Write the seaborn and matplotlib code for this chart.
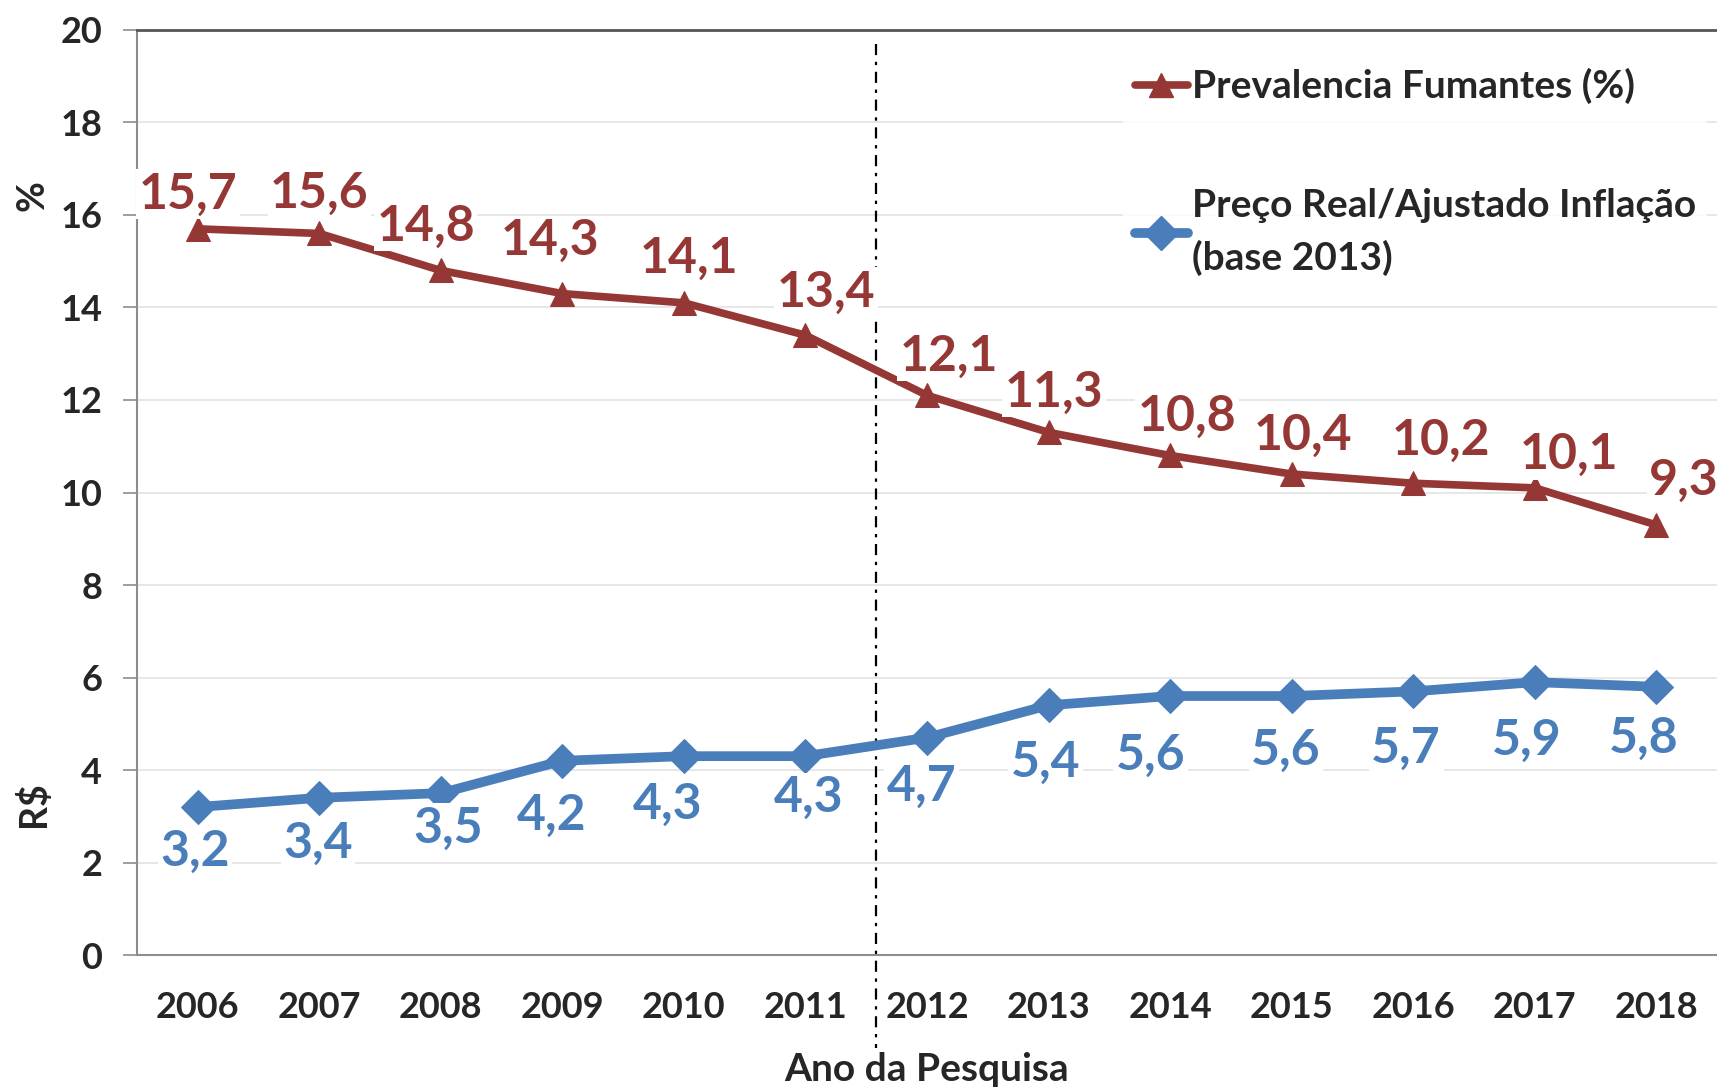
import numpy as np
import pandas as pd
import matplotlib
matplotlib.use("Agg")
import matplotlib.pyplot as plt
import seaborn as sns
from matplotlib.lines import Line2D

# data
years = ["2006", "2007", "2008", "2009", "2010", "2011", "2012",
         "2013", "2014", "2015", "2016", "2017", "2018"]
prevalencia = [15.7, 15.6, 14.8, 14.3, 14.1, 13.4, 12.1, 11.3, 10.8, 10.4, 10.2, 10.1, 9.3]
preco_real = [3.2, 3.4, 3.5, 4.2, 4.3, 4.3, 4.7, 5.4, 5.6, 5.6, 5.7, 5.9, 5.8]

label_prev = "Prevalencia Fumantes (%)"
label_preco = "Preço Real/Ajustado Inflação\n(base 2013)"

RED = "#953735"
BLUE = "#4A7EBB"

sns.set_style("white")
plt.rcParams["font.family"] = ["Lato", "DejaVu Sans"]
plt.rcParams["font.weight"] = "bold"

df = pd.DataFrame({"pos": np.arange(len(years)), "prev": prevalencia, "preco": preco_real})

fig = plt.figure(figsize=(17.17, 10.89), dpi=100)
ax = fig.add_axes([0.0798, 0.123, 0.9202, 0.8495])

sns.lineplot(data=df, x="pos", y="prev", ax=ax, color=RED, lw=5.5,
             marker="^", markersize=17, markeredgecolor=RED, zorder=3)
sns.lineplot(data=df, x="pos", y="preco", ax=ax, color=BLUE, lw=7,
             marker="D", markersize=17, markeredgecolor=BLUE, zorder=3)

# label offsets in points (hand placed in the original)
red_dx = [-7, 0, -11, -9, 4, 15, 16, 4, 12, 8, 20, 25, 20]
red_dy = [25, 29, 32, 38, 32, 31, 28, 29, 28, 28, 31, 24, 32]
blue_dx = [-2, -1, 5, -8, -12, 2, -4, -2, -14, -4, -5, -6, -9]
blue_dy = [32, 33, 25, 39, 35, 30, 35, 41, 43, 39, 41, 42, 37]

box = dict(boxstyle="square,pad=0.05", fc="white", ec="none")
for i in range(len(years)):
    ax.annotate(f"{prevalencia[i]:.1f}".replace(".", ","), (df.pos[i], prevalencia[i]),
                xytext=(red_dx[i], red_dy[i]), textcoords="offset points",
                ha="center", va="center", fontsize=36, color=RED, fontweight="bold",
                bbox=box, zorder=4)
    ax.annotate(f"{preco_real[i]:.1f}".replace(".", ","), (df.pos[i], preco_real[i]),
                xytext=(blue_dx[i], -blue_dy[i]), textcoords="offset points",
                ha="center", va="center", fontsize=36, color=BLUE, fontweight="bold",
                bbox=box, zorder=4)

# dash-dot separator between 2011 and 2012
ax.plot([5.58, 5.58], [19.7, -2.0], color="black", lw=1.6,
        dashes=(5, 3, 1.5, 3), clip_on=False, zorder=2)

ax.set_xlim(-0.5, 12.5)
ax.set_ylim(0, 20)
ax.set_yticks(range(0, 21, 2))
ax.set_xticks(df.pos)
ax.set_xticklabels(years)
ax.grid(axis="y", color="#e3e3e3", lw=1.2)
ax.set_axisbelow(True)

for side in ["left", "bottom"]:
    ax.spines[side].set_color("#8c8c8c")
    ax.spines[side].set_linewidth(1.5)
ax.spines["top"].set_color("#555555")
ax.spines["top"].set_linewidth(2)
ax.spines["right"].set_visible(False)

ax.tick_params(axis="y", length=10, width=1.2, color="#8c8c8c", pad=15,
               labelsize=26, left=True)
ax.tick_params(axis="x", length=0, pad=26, labelsize=26)
for t in ax.get_xticklabels() + ax.get_yticklabels():
    t.set_fontweight("bold")

ax.set_xlabel("Ano da Pesquisa", fontsize=28, fontweight="bold", labelpad=20)
ax.set_ylabel("")
fig.text(0.019, 0.82, "%", rotation=90, fontsize=27, fontweight="bold", ha="center", va="center")
fig.text(0.019, 0.262, "R$", rotation=90, fontsize=27, fontweight="bold", ha="center", va="center")

handles = [
    Line2D([], [], color=RED, lw=5.5, marker="^", markersize=17),
    Line2D([], [], color=BLUE, lw=7, marker="D", markersize=17),
]
leg = fig.legend(handles, [label_prev, label_preco], loc="upper left",
                 bbox_to_anchor=(0.643, 0.966), frameon=True,
                 handlelength=1.35, handletextpad=0.1, labelspacing=2.15,
                 borderpad=0.3, prop={"weight": "bold", "size": 28})
for t in leg.get_texts():
    t.set_linespacing(1.55)
leg.get_frame().set_facecolor("white")
leg.get_frame().set_edgecolor("none")
leg.get_frame().set_boxstyle("square", pad=0)

fig.savefig("out.png", dpi=100, facecolor="white")
